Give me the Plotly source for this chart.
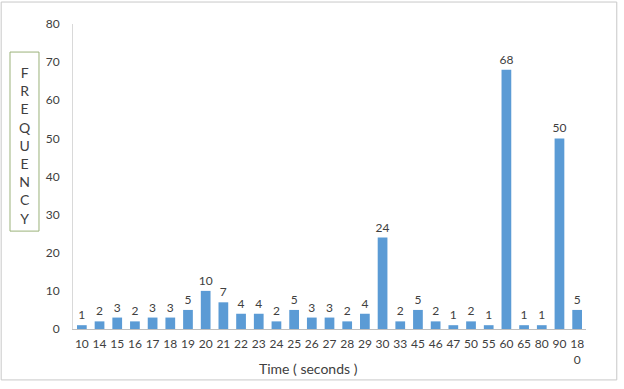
import plotly.graph_objects as go

categories = ["10", "14", "15", "16", "17", "18", "19", "20", "21", "22", "23", "24", "25", "26", "27",
              "28", "29", "30", "33", "45", "46", "47", "50", "55", "60", "65", "80", "90", "180"]
frequency = [1, 2, 3, 2, 3, 3, 5, 10, 7, 4, 4, 2, 5, 3, 3,
             2, 4, 24, 2, 5, 2, 1, 2, 1, 68, 1, 1, 50, 5]
tick_labels = categories[:-1] + ["18<br>0"]
y_ticks = [0, 10, 20, 30, 40, 50, 60, 70, 80]

FONT = "Lato, 'Open Sans', sans-serif"

fig = go.Figure()
fig.add_trace(go.Bar(
    x=categories, y=frequency,
    marker=dict(color="#5B9BD5", line=dict(width=0)),
    text=[str(v) for v in frequency], textposition="outside",
    textangle=0, constraintext="none",
    textfont=dict(size=12, color="#404040", family=FONT),
    cliponaxis=False,
))

fig.update_layout(
    width=624, height=389,
    margin=dict(l=73, r=38, t=24, b=60, autoexpand=False),
    paper_bgcolor="white", plot_bgcolor="white",
    bargap=0.45, showlegend=False,
    font=dict(family=FONT, color="#404040"),
    xaxis=dict(type="category", tickvals=categories, ticktext=tick_labels,
               tickfont=dict(size=12, color="#404040"), automargin=False,
               showgrid=False, showline=True, linecolor="#BFBFBF", linewidth=1,
               ticks="", ticklen=0, ticklabelstandoff=4),
    yaxis=dict(range=[0, 80], tickvals=y_ticks, tickfont=dict(size=12, color="#404040"),
               automargin=False,
               showgrid=False, showline=True, linecolor="#D9D9D9", linewidth=1,
               zeroline=False, ticks="", ticklabelstandoff=10),
)

# Outer chart border
fig.add_shape(type="rect", xref="paper", yref="paper",
              x0=-0.140, x1=1.060, y0=-0.167, y1=1.072,
              line=dict(color="#C8C8C8", width=1), layer="below")
# Y title box
fig.add_shape(type="rect", xref="paper", yref="paper",
              x0=-0.1228, x1=-0.0663, y0=0.321, y1=0.908,
              line=dict(color="#9BB27A", width=1))
fig.add_annotation(xref="paper", yref="paper", x=-0.0945, y=0.601,
                   text="<br>".join(list("FREQUENCY")), showarrow=False,
                   font=dict(size=14, color="#404040", family=FONT),
                   align="center", xanchor="center", yanchor="middle")
# X title
fig.add_annotation(xref="paper", yref="paper", x=0.46, y=-0.131,
                   text="Time ( seconds )", showarrow=False,
                   font=dict(size=14, color="#404040", family=FONT),
                   xanchor="center", yanchor="middle")

fig.write_html("out.html", config={"displayModeBar": False},
               post_script="document.body.style.margin='0';")
